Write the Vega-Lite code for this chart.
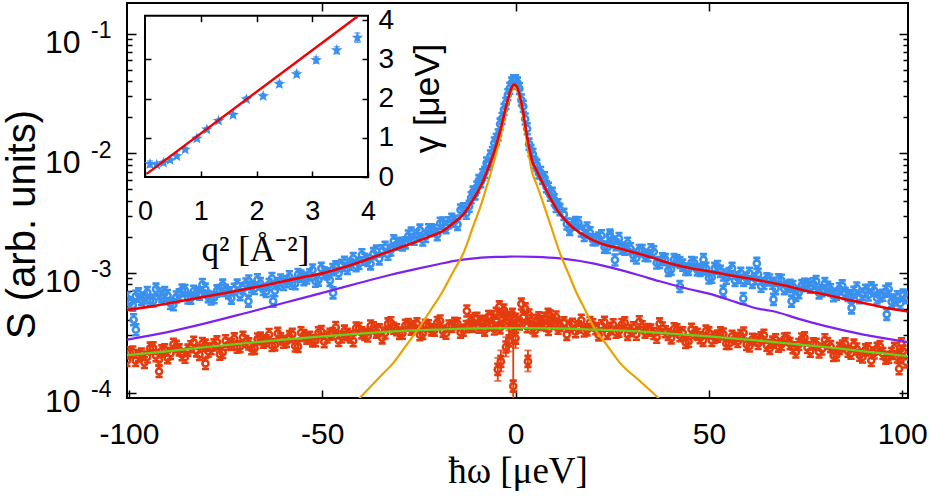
{
  "$schema": "https://vega.github.io/schema/vega-lite/v6.json",
  "width": 781,
  "height": 395,
  "autosize": "none",
  "padding": {"left": 127, "top": 3, "right": 21, "bottom": 98},
  "background": "white",
  "config": {
    "view": {"stroke": "black", "strokeWidth": 2},
    "axis": {
      "domain": false, "grid": false,
      "labelFont": "Liberation Sans", "titleFont": "Liberation Sans",
      "labelColor": "black", "titleColor": "black", "tickColor": "black",
      "tickWidth": 1.5, "titleFontWeight": "normal",
      "labelFlush": false, "labelOverlap": false, "titlePadding": 0
    }
  },
  "datasets": {
    "blue": [
      {"x":-100.5,"y":6.17e-4},{"x":-99,"y":5.38e-4},{"x":-97.5,"y":6.68e-4},{"x":-96,"y":6.17e-4},{"x":-94.5,"y":5.9e-4},{"x":-93,"y":7.31e-4},{"x":-91.5,"y":6.33e-4},{"x":-90,"y":6.47e-4},{"x":-88.5,"y":5.42e-4},{"x":-87,"y":6.55e-4},{"x":-85.5,"y":7.13e-4},{"x":-84,"y":6.15e-4},{"x":-82.5,"y":6.82e-4},{"x":-81,"y":7.99e-4},{"x":-79.5,"y":6.33e-4},{"x":-78,"y":6.19e-4},{"x":-76.5,"y":7.13e-4},{"x":-75,"y":7.14e-4},{"x":-73.5,"y":6.15e-4},{"x":-72,"y":7.9e-4},{"x":-70.5,"y":7.39e-4},{"x":-69,"y":8.54e-4},{"x":-67.5,"y":7.41e-4},{"x":-66,"y":8.13e-4},{"x":-64.5,"y":6.98e-4},{"x":-63,"y":8.97e-4},{"x":-61.5,"y":8.13e-4},{"x":-60,"y":8.0e-4},{"x":-58.5,"y":9.29e-4},{"x":-57,"y":8.11e-4},{"x":-55.5,"y":9.39e-4},{"x":-54,"y":9.05e-4},{"x":-52.5,"y":1.058e-3},{"x":-51,"y":8.7e-4},{"x":-49.5,"y":1.0e-3},{"x":-48,"y":8.66e-4},{"x":-46.5,"y":1.122e-3},{"x":-45,"y":1.154e-3},{"x":-43.5,"y":1.09e-3},{"x":-42,"y":1.32e-3},{"x":-40.5,"y":1.2e-3},{"x":-39,"y":1.3e-3},{"x":-37.5,"y":1.19e-3},{"x":-36,"y":1.52e-3},{"x":-34.5,"y":1.53e-3},{"x":-33,"y":1.43e-3},{"x":-31.5,"y":1.85e-3},{"x":-30,"y":1.77e-3},{"x":-28.5,"y":1.78e-3},{"x":-27,"y":2.15e-3},{"x":-25.5,"y":2.05e-3},{"x":-24,"y":1.88e-3},{"x":-22.5,"y":2.29e-3},{"x":-21,"y":2.26e-3},{"x":-19.5,"y":2.6e-3},{"x":-18,"y":2.39e-3},{"x":-16.5,"y":2.8e-3},{"x":-15,"y":2.54e-3},{"x":-13.5,"y":3.43e-3},{"x":-12,"y":3.6e-3},
      {"x":-99.75,"y":5.63e-4},{"x":-98.25,"y":6.38e-4},{"x":-96.75,"y":6.0e-4},{"x":-95.25,"y":6.84e-4},{"x":-93.75,"y":5.83e-4},{"x":-92.25,"y":6.66e-4},{"x":-90.75,"y":6.84e-4},{"x":-89.25,"y":5.54e-4},{"x":-87.75,"y":6.29e-4},{"x":-86.25,"y":7.18e-4},{"x":-84.75,"y":6.16e-4},{"x":-83.25,"y":7.01e-4},{"x":-81.75,"y":6.62e-4},{"x":-80.25,"y":7.31e-4},{"x":-78.75,"y":6.05e-4},{"x":-77.25,"y":7.07e-4},{"x":-75.75,"y":7.9e-4},{"x":-74.25,"y":6.8e-4},{"x":-72.75,"y":7.3e-4},{"x":-71.25,"y":6.58e-4},{"x":-69.75,"y":8.07e-4},{"x":-68.25,"y":7.62e-4},{"x":-66.75,"y":8.75e-4},{"x":-65.25,"y":7.27e-4},{"x":-63.75,"y":8.0e-4},{"x":-62.25,"y":7.08e-4},{"x":-60.75,"y":8.72e-4},{"x":-59.25,"y":8.43e-4},{"x":-57.75,"y":8.19e-4},{"x":-56.25,"y":9.7e-4},{"x":-54.75,"y":8.78e-4},{"x":-53.25,"y":9.62e-4},{"x":-51.75,"y":8.51e-4},{"x":-50.25,"y":1.094e-3},{"x":-48.75,"y":9.8e-4},{"x":-47.25,"y":1.065e-3},{"x":-45.75,"y":9.94e-4},{"x":-44.25,"y":1.226e-3},{"x":-42.75,"y":1.18e-3},{"x":-41.25,"y":1.147e-3},{"x":-39.75,"y":1.417e-3},{"x":-38.25,"y":1.267e-3},{"x":-36.75,"y":1.449e-3},{"x":-35.25,"y":1.31e-3},{"x":-33.75,"y":1.635e-3},{"x":-32.25,"y":1.554e-3},{"x":-30.75,"y":1.734e-3},{"x":-29.25,"y":1.711e-3},{"x":-27.75,"y":2.033e-3},{"x":-26.25,"y":1.911e-3},{"x":-24.75,"y":2.276e-3},{"x":-23.25,"y":2.014e-3},{"x":-21.75,"y":2.288e-3},{"x":-20.25,"y":2.088e-3},{"x":-18.75,"y":2.608e-3},{"x":-17.25,"y":2.62e-3},{"x":-15.75,"y":2.698e-3},{"x":-14.25,"y":3.355e-3},{"x":-12.75,"y":3.149e-3},
      {"x":-11.5,"y":4.24e-3},{"x":-11,"y":4.73e-3},{"x":-10.5,"y":4.57e-3},{"x":-10,"y":5.21e-3},{"x":-9.5,"y":5.9e-3},{"x":-9,"y":5.78e-3},{"x":-8.5,"y":6.61e-3},{"x":-8,"y":6.93e-3},{"x":-7.5,"y":8.28e-3},{"x":-7,"y":8.06e-3},{"x":-6.5,"y":9.49e-3},{"x":-6,"y":1.014e-2},{"x":-5.5,"y":1.217e-2},{"x":-5,"y":1.3e-2},{"x":-4.5,"y":1.42e-2},{"x":-4,"y":1.75e-2},{"x":-3.5,"y":1.95e-2},{"x":-3,"y":2.32e-2},{"x":-2.5,"y":2.61e-2},{"x":-2,"y":3.08e-2},{"x":-1.5,"y":3.49e-2},{"x":-1,"y":3.85e-2},{"x":-0.5,"y":4.02e-2},{"x":0,"y":4.03e-2},{"x":0.5,"y":3.85e-2},{"x":1,"y":3.47e-2},{"x":1.5,"y":2.78e-2},{"x":2,"y":2.47e-2},{"x":2.5,"y":1.93e-2},{"x":3,"y":1.6e-2},{"x":3.5,"y":1.19e-2},{"x":4,"y":1.05e-2},{"x":4.5,"y":9.8e-3},{"x":5,"y":8.28e-3},{"x":5.5,"y":7.95e-3},{"x":6,"y":6.83e-3},{"x":6.5,"y":6.9e-3},{"x":7,"y":6.16e-3},{"x":7.5,"y":6.24e-3},{"x":8,"y":5.24e-3},{"x":8.5,"y":5.09e-3},{"x":9,"y":4.45e-3},{"x":9.5,"y":4.62e-3},{"x":10,"y":4.07e-3},{"x":10.5,"y":3.59e-3},{"x":11,"y":3.71e-3},{"x":11.5,"y":3.38e-3},
      {"x":12.5,"y":3.08e-3},{"x":14,"y":2.31e-3},{"x":15.5,"y":2.63e-3},{"x":17,"y":2.24e-3},{"x":18.5,"y":2.37e-3},{"x":20,"y":1.89e-3},{"x":21.5,"y":1.95e-3},{"x":23,"y":1.64e-3},{"x":24.5,"y":2.0e-3},{"x":26,"y":1.72e-3},{"x":27.5,"y":1.61e-3},{"x":29,"y":1.77e-3},{"x":30.5,"y":1.4e-3},{"x":32,"y":1.54e-3},{"x":33.5,"y":1.4e-3},{"x":35,"y":1.56e-3},{"x":36.5,"y":1.21e-3},{"x":38,"y":1.31e-3},{"x":39.5,"y":1.05e-3},{"x":41,"y":1.29e-3},{"x":42.5,"y":1.22e-3},{"x":44,"y":1.07e-3},{"x":45.5,"y":1.22e-3},{"x":47,"y":1.06e-3},{"x":48.5,"y":1.08e-3},{"x":50,"y":9.06e-4},{"x":51.5,"y":1.09e-3},{"x":53,"y":1.03e-3},{"x":54.5,"y":9.02e-4},{"x":56,"y":1.09e-3},{"x":57.5,"y":9.11e-4},{"x":59,"y":8.65e-4},{"x":60.5,"y":9.93e-4},{"x":62,"y":8.93e-4},{"x":63.5,"y":7.74e-4},{"x":65,"y":8.9e-4},{"x":66.5,"y":8.2e-4},{"x":68,"y":8.77e-4},{"x":69.5,"y":7.38e-4},{"x":71,"y":7.88e-4},{"x":72.5,"y":6.48e-4},{"x":74,"y":7.83e-4},{"x":75.5,"y":7.97e-4},{"x":77,"y":8.11e-4},{"x":78.5,"y":6.8e-4},{"x":80,"y":8.13e-4},{"x":81.5,"y":7.22e-4},{"x":83,"y":6.63e-4},{"x":84.5,"y":7.79e-4},{"x":86,"y":6.46e-4},{"x":87.5,"y":6.89e-4},{"x":89,"y":6.2e-4},{"x":90.5,"y":7.15e-4},{"x":92,"y":7.49e-4},{"x":93.5,"y":6.16e-4},{"x":95,"y":6.5e-4},{"x":96.5,"y":7.32e-4},{"x":98,"y":5.94e-4},{"x":99.5,"y":5.58e-4},{"x":101,"y":6.21e-4},
      {"x":13.25,"y":2.56e-3},{"x":14.75,"y":2.55e-3},{"x":16.25,"y":2.62e-3},{"x":17.75,"y":2.05e-3},{"x":19.25,"y":2.16e-3},{"x":20.75,"y":1.89e-3},{"x":22.25,"y":2.04e-3},{"x":23.75,"y":1.63e-3},{"x":25.25,"y":1.81e-3},{"x":26.75,"y":1.94e-3},{"x":28.25,"y":1.58e-3},{"x":29.75,"y":1.59e-3},{"x":31.25,"y":1.33e-3},{"x":32.75,"y":1.54e-3},{"x":34.25,"y":1.39e-3},{"x":35.75,"y":1.5e-3},{"x":37.25,"y":1.22e-3},{"x":38.75,"y":1.29e-3},{"x":40.25,"y":1.07e-3},{"x":41.75,"y":1.26e-3},{"x":43.25,"y":1.16e-3},{"x":44.75,"y":1.07e-3},{"x":46.25,"y":1.21e-3},{"x":47.75,"y":1.05e-3},{"x":49.25,"y":1.09e-3},{"x":50.75,"y":9.18e-4},{"x":52.25,"y":1.13e-3},{"x":53.75,"y":9.6e-4},{"x":55.25,"y":9.89e-4},{"x":56.75,"y":8.65e-4},{"x":58.25,"y":9.94e-4},{"x":59.75,"y":9.02e-4},{"x":61.25,"y":8.32e-4},{"x":62.75,"y":9.72e-4},{"x":64.25,"y":8.16e-4},{"x":65.75,"y":8.72e-4},{"x":67.25,"y":7.39e-4},{"x":68.75,"y":8.67e-4},{"x":70.25,"y":7.67e-4},{"x":71.75,"y":7.7e-4},{"x":73.25,"y":6.84e-4},{"x":74.75,"y":8.03e-4},{"x":76.25,"y":7.59e-4},{"x":77.75,"y":8.48e-4},{"x":79.25,"y":7.11e-4},{"x":80.75,"y":7.59e-4},{"x":82.25,"y":6.44e-4},{"x":83.75,"y":7.36e-4},{"x":85.25,"y":6.74e-4},{"x":86.75,"y":6.33e-4},{"x":88.25,"y":7.47e-4},{"x":89.75,"y":6.61e-4},{"x":91.25,"y":6.54e-4},{"x":92.75,"y":7.13e-4},{"x":94.25,"y":6.4e-4},{"x":95.75,"y":7.02e-4},{"x":97.25,"y":5.75e-4},{"x":98.75,"y":6.31e-4},{"x":100.25,"y":6.51e-4},
      {"x":-98.8,"y":4.06e-4},{"x":-98.2,"y":3.35e-4},{"x":-69.1,"y":5.8e-4},{"x":-62.7,"y":5.8e-4},{"x":-47.2,"y":6.8e-4},{"x":24.4,"y":2.07e-3},{"x":25.7,"y":1.28e-3},{"x":42.5,"y":7.7e-4},{"x":48.6,"y":1.29e-3},{"x":53.7,"y":7.0e-4},{"x":58.9,"y":6.1e-4},{"x":62.4,"y":1.2e-3},{"x":66.7,"y":6.0e-4},{"x":71.4,"y":5.8e-4},{"x":86.9,"y":5.1e-4},{"x":96,"y":4.5e-4}
    ],
    "orange": [
      {"x":-100.5,"y":1.85e-4},{"x":-99,"y":2.18e-4},{"x":-97.5,"y":2.04e-4},{"x":-96,"y":1.78e-4},{"x":-94.5,"y":2.35e-4},{"x":-93,"y":2.03e-4},{"x":-91.5,"y":2.23e-4},{"x":-90,"y":1.95e-4},{"x":-88.5,"y":2.53e-4},{"x":-87,"y":2.27e-4},{"x":-85.5,"y":1.97e-4},{"x":-84,"y":2.41e-4},{"x":-82.5,"y":2.23e-4},{"x":-81,"y":2.57e-4},{"x":-79.5,"y":2.21e-4},{"x":-78,"y":2.5e-4},{"x":-76.5,"y":2.09e-4},{"x":-75,"y":2.71e-4},{"x":-73.5,"y":2.52e-4},{"x":-72,"y":2.39e-4},{"x":-70.5,"y":2.9e-4},{"x":-69,"y":2.55e-4},{"x":-67.5,"y":2.34e-4},{"x":-66,"y":2.85e-4},{"x":-64.5,"y":2.71e-4},{"x":-63,"y":2.47e-4},{"x":-61.5,"y":3.12e-4},{"x":-60,"y":2.63e-4},{"x":-58.5,"y":2.93e-4},{"x":-57,"y":2.45e-4},{"x":-55.5,"y":3.16e-4},{"x":-54,"y":2.85e-4},{"x":-52.5,"y":2.7e-4},{"x":-51,"y":3.16e-4},{"x":-49.5,"y":2.66e-4},{"x":-48,"y":3.07e-4},{"x":-46.5,"y":3.49e-4},{"x":-45,"y":2.91e-4},{"x":-43.5,"y":3.06e-4},{"x":-42,"y":2.71e-4},{"x":-40.5,"y":3.43e-4},{"x":-39,"y":3.06e-4},{"x":-37.5,"y":3.6e-4},{"x":-36,"y":3.2e-4},{"x":-34.5,"y":2.86e-4},{"x":-33,"y":3.75e-4},{"x":-31.5,"y":3.44e-4},{"x":-30,"y":3.12e-4},{"x":-28.5,"y":3.65e-4},{"x":-27,"y":3.39e-4},{"x":-25.5,"y":3.75e-4},{"x":-24,"y":3.12e-4},{"x":-22.5,"y":3.61e-4},{"x":-21,"y":3.32e-4},{"x":-19.5,"y":3.96e-4},{"x":-18,"y":3.13e-4},{"x":-16.5,"y":3.57e-4},{"x":-15,"y":3.76e-4},{"x":-13.5,"y":3.31e-4},{"x":-12,"y":3.57e-4},
      {"x":-99.75,"y":2.15e-4},{"x":-98.25,"y":1.85e-4},{"x":-96.75,"y":2.1e-4},{"x":-95.25,"y":1.98e-4},{"x":-93.75,"y":2.36e-4},{"x":-92.25,"y":1.88e-4},{"x":-90.75,"y":2.27e-4},{"x":-89.25,"y":2.12e-4},{"x":-87.75,"y":2.43e-4},{"x":-86.25,"y":2.07e-4},{"x":-84.75,"y":2.26e-4},{"x":-83.25,"y":2.63e-4},{"x":-81.75,"y":2.08e-4},{"x":-80.25,"y":2.49e-4},{"x":-78.75,"y":2.32e-4},{"x":-77.25,"y":2.65e-4},{"x":-75.75,"y":2.16e-4},{"x":-74.25,"y":2.53e-4},{"x":-72.75,"y":2.81e-4},{"x":-71.25,"y":2.41e-4},{"x":-69.75,"y":2.67e-4},{"x":-68.25,"y":2.32e-4},{"x":-66.75,"y":2.8e-4},{"x":-65.25,"y":2.64e-4},{"x":-63.75,"y":3.05e-4},{"x":-62.25,"y":2.5e-4},{"x":-60.75,"y":2.81e-4},{"x":-59.25,"y":2.67e-4},{"x":-57.75,"y":3.06e-4},{"x":-56.25,"y":2.43e-4},{"x":-54.75,"y":3.0e-4},{"x":-53.25,"y":2.89e-4},{"x":-51.75,"y":2.71e-4},{"x":-50.25,"y":3.23e-4},{"x":-48.75,"y":2.91e-4},{"x":-47.25,"y":3.11e-4},{"x":-45.75,"y":2.72e-4},{"x":-44.25,"y":3.26e-4},{"x":-42.75,"y":2.92e-4},{"x":-41.25,"y":3.46e-4},{"x":-39.75,"y":3.15e-4},{"x":-38.25,"y":2.97e-4},{"x":-36.75,"y":3.48e-4},{"x":-35.25,"y":3.34e-4},{"x":-33.75,"y":3.14e-4},{"x":-32.25,"y":3.83e-4},{"x":-30.75,"y":3.35e-4},{"x":-29.25,"y":3.13e-4},{"x":-27.75,"y":3.69e-4},{"x":-26.25,"y":3.54e-4},{"x":-24.75,"y":3.04e-4},{"x":-23.25,"y":3.64e-4},{"x":-21.75,"y":3.34e-4},{"x":-20.25,"y":3.85e-4},{"x":-18.75,"y":3.26e-4},{"x":-17.25,"y":3.6e-4},{"x":-15.75,"y":3.78e-4},{"x":-14.25,"y":3.19e-4},{"x":-12.75,"y":3.56e-4},
      {"x":-11.5,"y":3.98e-4},{"x":-11,"y":3.59e-4},{"x":-10.5,"y":4.13e-4},{"x":-10,"y":4.17e-4},{"x":-9.5,"y":3.51e-4},{"x":-9,"y":3.86e-4},{"x":-8.5,"y":3.94e-4},{"x":-8,"y":3.32e-4},{"x":-7.5,"y":3.67e-4},{"x":-7,"y":4.32e-4},{"x":-6.5,"y":4.32e-4},{"x":-6,"y":3.71e-4},{"x":-5.5,"y":3.4e-4},{"x":-5,"y":4.01e-4},{"x":-4,"y":3.47e-4},{"x":-3.5,"y":4.05e-4},{"x":-3,"y":4.44e-4},{"x":-2,"y":3.94e-4},{"x":-1.5,"y":4.25e-4},{"x":-1,"y":3.4e-4},{"x":-0.5,"y":3.59e-4},{"x":0,"y":4.09e-4},{"x":0.5,"y":3.86e-4},{"x":1,"y":3.74e-4},{"x":2,"y":4.25e-4},{"x":3,"y":3.55e-4},{"x":3.5,"y":4.44e-4},{"x":4,"y":3.98e-4},{"x":4.5,"y":3.47e-4},{"x":5,"y":3.28e-4},{"x":5.5,"y":4.01e-4},{"x":6,"y":4.21e-4},{"x":6.5,"y":3.71e-4},{"x":7,"y":3.86e-4},{"x":7.5,"y":4.17e-4},{"x":8,"y":3.63e-4},{"x":8.5,"y":3.36e-4},{"x":9,"y":4.36e-4},{"x":9.5,"y":3.9e-4},{"x":10,"y":3.78e-4},{"x":10.5,"y":4.28e-4},{"x":11,"y":3.44e-4},{"x":11.5,"y":3.63e-4},
      {"x":-5,"y":4.6e-4},{"x":-4.2,"y":5.2e-4},{"x":-3,"y":4.9e-4},{"x":-0.8,"y":4.5e-4},{"x":1.5,"y":5.5e-4},{"x":2.5,"y":5.0e-4},{"x":-12.6,"y":4.8e-4},{"x":8.4,"y":4.5e-4},
      {"x":-4.6,"y":1.56e-4},{"x":-3.8,"y":1.82e-4},{"x":-2.5,"y":2.4e-4},{"x":-1.7,"y":2.7e-4},{"x":-0.6,"y":1.13e-4},{"x":0,"y":2.85e-4},{"x":3.2,"y":1.82e-4},
      {"x":12.5,"y":3.82e-4},{"x":14,"y":3.59e-4},{"x":15.5,"y":3.22e-4},{"x":17,"y":4.02e-4},{"x":18.5,"y":3.34e-4},{"x":20,"y":3.68e-4},{"x":21.5,"y":3.03e-4},{"x":23,"y":3.86e-4},{"x":24.5,"y":3.42e-4},{"x":26,"y":3.19e-4},{"x":27.5,"y":3.7e-4},{"x":29,"y":3.06e-4},{"x":30.5,"y":3.48e-4},{"x":32,"y":3.9e-4},{"x":33.5,"y":3.2e-4},{"x":35,"y":3.32e-4},{"x":36.5,"y":2.9e-4},{"x":38,"y":3.46e-4},{"x":39.5,"y":3.05e-4},{"x":41,"y":3.41e-4},{"x":42.5,"y":2.98e-4},{"x":44,"y":2.62e-4},{"x":45.5,"y":3.38e-4},{"x":47,"y":3.06e-4},{"x":48.5,"y":2.73e-4},{"x":50,"y":3.15e-4},{"x":51.5,"y":2.89e-4},{"x":53,"y":3.15e-4},{"x":54.5,"y":2.57e-4},{"x":56,"y":2.95e-4},{"x":57.5,"y":2.67e-4},{"x":59,"y":3.14e-4},{"x":60.5,"y":2.45e-4},{"x":62,"y":2.76e-4},{"x":63.5,"y":2.86e-4},{"x":65,"y":2.48e-4},{"x":66.5,"y":2.64e-4},{"x":68,"y":2.44e-4},{"x":69.5,"y":2.8e-4},{"x":71,"y":2.56e-4},{"x":72.5,"y":2.18e-4},{"x":74,"y":2.8e-4},{"x":75.5,"y":2.38e-4},{"x":77,"y":2.55e-4},{"x":78.5,"y":2.18e-4},{"x":80,"y":2.76e-4},{"x":81.5,"y":2.42e-4},{"x":83,"y":2.06e-4},{"x":84.5,"y":2.45e-4},{"x":86,"y":2.21e-4},{"x":87.5,"y":2.49e-4},{"x":89,"y":2.05e-4},{"x":90.5,"y":2.27e-4},{"x":92,"y":1.85e-4},{"x":93.5,"y":2.34e-4},{"x":95,"y":2.12e-4},{"x":96.5,"y":1.97e-4},{"x":98,"y":2.34e-4},{"x":99.5,"y":2.01e-4},{"x":101,"y":1.8e-4},
      {"x":13.25,"y":3.06e-4},{"x":14.75,"y":3.72e-4},{"x":16.25,"y":3.54e-4},{"x":17.75,"y":3.27e-4},{"x":19.25,"y":3.85e-4},{"x":20.75,"y":3.42e-4},{"x":22.25,"y":3.61e-4},{"x":23.75,"y":3.12e-4},{"x":25.25,"y":3.68e-4},{"x":26.75,"y":3.26e-4},{"x":28.25,"y":3.82e-4},{"x":29.75,"y":3.29e-4},{"x":31.25,"y":3.07e-4},{"x":32.75,"y":3.55e-4},{"x":34.25,"y":3.36e-4},{"x":35.75,"y":3.11e-4},{"x":37.25,"y":3.75e-4},{"x":38.75,"y":3.22e-4},{"x":40.25,"y":2.86e-4},{"x":41.75,"y":3.34e-4},{"x":43.25,"y":3.15e-4},{"x":44.75,"y":2.67e-4},{"x":46.25,"y":3.16e-4},{"x":47.75,"y":2.87e-4},{"x":49.25,"y":3.26e-4},{"x":50.75,"y":2.72e-4},{"x":52.25,"y":2.96e-4},{"x":53.75,"y":3.08e-4},{"x":55.25,"y":2.57e-4},{"x":56.75,"y":2.82e-4},{"x":58.25,"y":2.99e-4},{"x":59.75,"y":2.52e-4},{"x":61.25,"y":2.79e-4},{"x":62.75,"y":2.57e-4},{"x":64.25,"y":3.01e-4},{"x":65.75,"y":2.34e-4},{"x":67.25,"y":2.76e-4},{"x":68.75,"y":2.52e-4},{"x":70.25,"y":2.83e-4},{"x":71.75,"y":2.37e-4},{"x":73.25,"y":2.52e-4},{"x":74.75,"y":2.86e-4},{"x":76.25,"y":2.21e-4},{"x":77.75,"y":2.53e-4},{"x":79.25,"y":2.31e-4},{"x":80.75,"y":2.57e-4},{"x":82.25,"y":2.04e-4},{"x":83.75,"y":2.34e-4},{"x":85.25,"y":2.55e-4},{"x":86.75,"y":2.13e-4},{"x":88.25,"y":2.31e-4},{"x":89.75,"y":1.98e-4},{"x":91.25,"y":2.32e-4},{"x":92.75,"y":2.14e-4},{"x":94.25,"y":2.42e-4},{"x":95.75,"y":1.94e-4},{"x":97.25,"y":2.12e-4},{"x":98.75,"y":1.98e-4},{"x":100.25,"y":2.22e-4},
      {"x":99.8,"y":2.55e-4},{"x":99.2,"y":1.58e-4},{"x":-92.2,"y":1.5e-4},{"x":-80.2,"y":1.75e-4}
    ],
    "errs": [
      {"x":-4.6,"lo":1.25e-4,"hi":1.95e-4},{"x":-3.8,"lo":1.5e-4,"hi":2.25e-4},{"x":-2.5,"lo":2.0e-4,"hi":2.9e-4},{"x":-1.7,"lo":2.2e-4,"hi":3.3e-4},{"x":-0.6,"lo":8.0e-5,"hi":2.95e-4},{"x":0,"lo":2.35e-4,"hi":3.5e-4},{"x":3.2,"lo":1.5e-4,"hi":2.25e-4}
    ],
    "total": [
      {"x":-100.5,"y":4.9e-4},{"x":-95,"y":5.2e-4},{"x":-90,"y":5.55e-4},{"x":-85,"y":5.93e-4},{"x":-80,"y":6.35e-4},{"x":-75,"y":6.8e-4},{"x":-70,"y":7.3e-4},{"x":-65,"y":7.85e-4},{"x":-60,"y":8.5e-4},{"x":-55,"y":9.2e-4},{"x":-50,"y":9.9e-4},{"x":-45,"y":1.1e-3},{"x":-40,"y":1.24e-3},{"x":-35,"y":1.42e-3},{"x":-30,"y":1.62e-3},{"x":-27,"y":1.75e-3},{"x":-24.7,"y":1.87e-3},{"x":-22,"y":2.02e-3},{"x":-19.1,"y":2.21e-3},{"x":-16,"y":2.62e-3},{"x":-13.5,"y":3.08e-3},{"x":-11,"y":4.08e-3},{"x":-8.8,"y":5.48e-3},{"x":-7.4,"y":7.05e-3},{"x":-6.2,"y":8.9e-3},{"x":-5,"y":1.17e-2},{"x":-4,"y":1.52e-2},{"x":-3,"y":2.07e-2},{"x":-2,"y":2.8e-2},{"x":-1.2,"y":3.41e-2},{"x":-0.4,"y":3.74e-2},{"x":0,"y":3.7e-2},{"x":0.4,"y":3.56e-2},{"x":1.2,"y":2.92e-2},{"x":2,"y":2.17e-2},{"x":2.9,"y":1.43e-2},{"x":3.5,"y":1.12e-2},{"x":4.16,"y":8.9e-3},{"x":5.5,"y":7.1e-3},{"x":7.17,"y":5.5e-3},{"x":9.3,"y":4.04e-3},{"x":11.5,"y":3.1e-3},{"x":13.6,"y":2.6e-3},{"x":15.8,"y":2.26e-3},{"x":18,"y":2.04e-3},{"x":20.1,"y":1.87e-3},{"x":23.5,"y":1.7e-3},{"x":26.2,"y":1.62e-3},{"x":30,"y":1.5e-3},{"x":35,"y":1.35e-3},{"x":40,"y":1.2e-3},{"x":45,"y":1.1e-3},{"x":50,"y":1.03e-3},{"x":55,"y":9.6e-4},{"x":60,"y":9.0e-4},{"x":66.7,"y":8.2e-4},{"x":70,"y":7.8e-4},{"x":75,"y":7.1e-4},{"x":80,"y":6.6e-4},{"x":85,"y":6.05e-4},{"x":90,"y":5.6e-4},{"x":95,"y":5.15e-4},{"x":101.5,"y":4.75e-4}
    ],
    "broad": [
      {"x":-100.5,"y":2.77e-4},{"x":-90,"y":3.2e-4},{"x":-80,"y":3.8e-4},{"x":-70,"y":4.6e-4},{"x":-60,"y":5.6e-4},{"x":-50,"y":6.8e-4},{"x":-40,"y":8.3e-4},{"x":-32.5,"y":9.6e-4},{"x":-25,"y":1.09e-3},{"x":-20,"y":1.18e-3},{"x":-15,"y":1.27e-3},{"x":-10,"y":1.33e-3},{"x":-5,"y":1.36e-3},{"x":0,"y":1.37e-3},{"x":5,"y":1.36e-3},{"x":11.5,"y":1.32e-3},{"x":20,"y":1.2e-3},{"x":27,"y":1.06e-3},{"x":32.2,"y":9.5e-4},{"x":37.3,"y":8.5e-4},{"x":45,"y":7.3e-4},{"x":50,"y":6.7e-4},{"x":57,"y":5.7e-4},{"x":63,"y":5.0e-4},{"x":66.7,"y":4.78e-4},{"x":73,"y":4.15e-4},{"x":80.5,"y":3.57e-4},{"x":90,"y":3.05e-4},{"x":101.5,"y":2.64e-4}
    ],
    "narrow": [
      {"x":-45,"y":6.3e-5},{"x":-40.3,"y":9.0e-5},{"x":-35,"y":1.36e-4},{"x":-31.6,"y":1.77e-4},{"x":-28,"y":2.55e-4},{"x":-24.7,"y":3.57e-4},{"x":-22,"y":4.86e-4},{"x":-19.1,"y":6.78e-4},{"x":-16,"y":1.04e-3},{"x":-13.5,"y":1.46e-3},{"x":-11,"y":2.43e-3},{"x":-8.8,"y":3.81e-3},{"x":-7.4,"y":5.37e-3},{"x":-6.2,"y":7.2e-3},{"x":-5,"y":1.0e-2},{"x":-4,"y":1.35e-2},{"x":-3,"y":1.9e-2},{"x":-2,"y":2.63e-2},{"x":-1.2,"y":3.24e-2},{"x":-0.4,"y":3.57e-2},{"x":0.4,"y":3.39e-2},{"x":1.2,"y":2.75e-2},{"x":2,"y":2.0e-2},{"x":2.9,"y":1.26e-2},{"x":3.5,"y":9.5e-3},{"x":4.16,"y":7.2e-3},{"x":5.5,"y":5.43e-3},{"x":7.17,"y":3.81e-3},{"x":9.3,"y":2.37e-3},{"x":11.48,"y":1.46e-3},{"x":13.6,"y":1.0e-3},{"x":15.8,"y":6.78e-4},{"x":18,"y":4.9e-4},{"x":20.1,"y":3.57e-4},{"x":23.5,"y":2.52e-4},{"x":27,"y":1.77e-4},{"x":32,"y":1.26e-4},{"x":36.9,"y":9.03e-5},{"x":42,"y":6.3e-5}
    ],
    "bg": [
      {"x":-100.5,"y":2.05e-4},{"x":-90,"y":2.21e-4},{"x":-80,"y":2.4e-4},{"x":-70,"y":2.58e-4},{"x":-60,"y":2.77e-4},{"x":-50,"y":2.95e-4},{"x":-40,"y":3.11e-4},{"x":-30,"y":3.26e-4},{"x":-20,"y":3.36e-4},{"x":-10,"y":3.44e-4},{"x":0,"y":3.46e-4},{"x":10,"y":3.44e-4},{"x":20,"y":3.36e-4},{"x":30,"y":3.26e-4},{"x":40,"y":3.11e-4},{"x":50,"y":2.95e-4},{"x":60,"y":2.77e-4},{"x":70,"y":2.58e-4},{"x":80,"y":2.4e-4},{"x":90,"y":2.21e-4},{"x":101.5,"y":2.01e-4}
    ],
    "gamma": [
      {"q":0.09,"g":0.33,"e":0.08},{"q":0.21,"g":0.31,"e":0.06},{"q":0.33,"g":0.36,"e":0.05},{"q":0.45,"g":0.43,"e":0.05},{"q":0.57,"g":0.53,"e":0.05},{"q":0.72,"g":0.7,"e":0.05},{"q":0.93,"g":0.98,"e":0.05},{"q":1.11,"g":1.21,"e":0.05},{"q":1.32,"g":1.43,"e":0.05},{"q":1.58,"g":1.58,"e":0.05},{"q":1.82,"g":1.98,"e":0.06},{"q":2.12,"g":2.06,"e":0.06},{"q":2.41,"g":2.37,"e":0.07},{"q":2.72,"g":2.62,"e":0.07},{"q":3.07,"g":2.98,"e":0.08},{"q":3.44,"g":3.23,"e":0.09},{"q":3.81,"g":3.55,"e":0.12}
    ],
    "gammafit": [
      {"q":0.03,"g":0.08},{"q":3.81,"g":4.09}
    ]
  },
  "layer": [
    {
      "layer": [
        {
          "data": {"name": "blue"},
          "mark": {"type": "point", "shape": "M-0.55,0A0.55,0.55,0,1,1,0.55,0A0.55,0.55,0,1,1,-0.55,0M0,-0.55L0,-1M-0.65,-1L0.65,-1M0,0.55L0,1M-0.65,1L0.65,1", "filled": false, "size": 121, "strokeWidth": 2.6, "color": "#3a90ee", "opacity": 1, "clip": true},
          "encoding": {
            "x": {"field": "x", "type": "quantitative", "scale": {"domain": [-100.5, 101.5], "nice": false, "zero": false},
              "axis": {"orient": "bottom", "values": [-100, -50, 0, 50, 100], "tickSize": -8, "labelPadding": 29.5, "labelFontSize": 30, "labelExpr": "'' + datum.value", "title": "ħω [μeV]", "titleFont": "Liberation Serif", "titleFontSize": 37, "titleY": 84, "titleBaseline": "alphabetic"}},
            "y": {"field": "y", "type": "quantitative", "scale": {"type": "log", "domain": [9e-5, 0.18], "nice": false},
              "axis": {"orient": "left", "values": [0.0001, 0.001, 0.01, 0.1], "tickSize": 0, "labelPadding": 47, "labelFontSize": 32, "labelExpr": "'10'", "labelBaseline": "middle", "labelOffset": 9, "title": "S (arb. units)", "titleFontSize": 40, "titleX": -93, "titleY": 221, "titleAngle": 270, "titleBaseline": "alphabetic", "titleAlign": "center"}}
          }
        },
        {
          "data": {"name": "orange"},
          "mark": {"type": "point", "shape": "M-0.55,0A0.55,0.55,0,1,1,0.55,0A0.55,0.55,0,1,1,-0.55,0M0,-0.55L0,-1M-0.65,-1L0.65,-1M0,0.55L0,1M-0.65,1L0.65,1", "filled": false, "size": 121, "strokeWidth": 2.6, "color": "#e43c0e", "opacity": 1, "clip": true},
          "encoding": {
            "x": {"field": "x", "type": "quantitative", "axis": {"orient": "top", "values": [-50, 0, 50], "tickSize": -8, "labels": false, "title": null}},
            "y": {"field": "y", "type": "quantitative", "axis": {"orient": "left", "values": [0.0001, 0.001, 0.01, 0.1], "tickSize": 0, "labelPadding": 16, "labelFontSize": 23, "labelExpr": "'' + round(log(datum.value) / LN10)", "labelBaseline": "middle", "labelOffset": -3, "title": null}}
          }
        },
        {
          "data": {"name": "errs"},
          "mark": {"type": "errorbar", "ticks": {"size": 7}, "thickness": 1.8, "color": "#e43c0e", "clip": true},
          "encoding": {
            "x": {"field": "x", "type": "quantitative", "axis": null},
            "y": {"field": "lo", "type": "quantitative", "axis": null},
            "y2": {"field": "hi"}
          }
        },
        {
          "data": {"name": "broad"},
          "mark": {"type": "line", "color": "#7c22ec", "strokeWidth": 2.2, "interpolate": "monotone", "clip": true},
          "encoding": {
            "x": {"field": "x", "type": "quantitative", "axis": null},
            "y": {"field": "y", "type": "quantitative", "axis": {"orient": "left", "values": [0.0001, 0.001, 0.01, 0.1], "tickSize": -9, "labels": false, "title": null}}
          }
        },
        {
          "data": {"name": "narrow"},
          "mark": {"type": "line", "color": "#e8a303", "strokeWidth": 2.2, "interpolate": "monotone", "clip": true},
          "encoding": {
            "x": {"field": "x", "type": "quantitative", "axis": null},
            "y": {"field": "y", "type": "quantitative", "axis": {"orient": "left", "values": [0.0002,0.0003,0.0004,0.0005,0.0006,0.0007,0.0008,0.0009,0.002,0.003,0.004,0.005,0.006,0.007,0.008,0.009,0.02,0.03,0.04,0.05,0.06,0.07,0.08,0.09], "tickSize": -5, "labels": false, "title": null}}
          }
        },
        {
          "data": {"name": "bg"},
          "mark": {"type": "line", "color": "#66d01e", "strokeWidth": 2.2, "interpolate": "monotone", "clip": true},
          "encoding": {
            "x": {"field": "x", "type": "quantitative", "axis": null},
            "y": {"field": "y", "type": "quantitative", "axis": {"orient": "right", "values": [0.0001, 0.001, 0.01, 0.1], "tickSize": -9, "labels": false, "title": null}}
          }
        },
        {
          "data": {"name": "total"},
          "mark": {"type": "line", "color": "#f00000", "strokeWidth": 2.6, "interpolate": "monotone", "clip": true},
          "encoding": {
            "x": {"field": "x", "type": "quantitative", "axis": null},
            "y": {"field": "y", "type": "quantitative", "axis": {"orient": "right", "values": [0.0002,0.0003,0.0004,0.0005,0.0006,0.0007,0.0008,0.0009,0.002,0.003,0.004,0.005,0.006,0.007,0.008,0.009,0.02,0.03,0.04,0.05,0.06,0.07,0.08,0.09], "tickSize": -5, "labels": false, "title": null}}
          }
        }
      ],
      "resolve": {"axis": {"x": "independent", "y": "independent"}}
    },
    {
      "layer": [
        {
          "data": {"values": [{}]},
          "mark": {"type": "rect", "fill": "white", "stroke": "black", "strokeWidth": 2},
          "encoding": {
            "x": {"datum": 0, "type": "quantitative", "scale": {"domain": [0, 4], "range": [18, 241], "nice": false, "zero": false},
              "axis": {"orient": "bottom", "offset": -221, "values": [0, 1, 2, 3, 4], "tickSize": -6, "labelPadding": 27, "labelFontSize": 27, "zindex": 1, "title": "q² [Å⁻²]", "titleFont": "Liberation Serif", "titleFontSize": 35, "titleX": 128, "titleY": 83, "titleBaseline": "alphabetic", "titleAlign": "center"}},
            "x2": {"datum": 4},
            "y": {"datum": 0, "type": "quantitative", "scale": {"domain": [0, 4.11], "range": [174, 12.7], "nice": false, "zero": false},
              "axis": {"orient": "right", "offset": -540, "values": [0, 1, 2, 3, 4], "tickSize": -6, "labelPadding": 16, "labelFontSize": 28, "labelBaseline": "middle", "zindex": 1, "title": "γ [μeV]", "titleFontSize": 35, "titleAngle": 270, "titleX": 70, "titleY": 95, "titleBaseline": "alphabetic", "titleAlign": "center"}},
            "y2": {"datum": 4.11}
          }
        },
        {
          "data": {"name": "gamma"},
          "mark": {"type": "errorbar", "ticks": {"size": 6}, "thickness": 1.5, "color": "#3a90ee"},
          "encoding": {
            "x": {"field": "q", "type": "quantitative", "axis": null},
            "y": {"field": "g", "type": "quantitative", "axis": null},
            "yError": {"field": "e"}
          }
        },
        {
          "data": {"name": "gamma"},
          "mark": {"type": "point", "shape": "M0,-1L0.235,-0.324L0.951,-0.309L0.38,0.124L0.588,0.809L0,0.4L-0.588,0.809L-0.38,0.124L-0.951,-0.309L-0.235,-0.324Z", "filled": true, "size": 150, "strokeWidth": 1, "color": "#3a90ee", "opacity": 1},
          "encoding": {
            "x": {"field": "q", "type": "quantitative", "axis": null},
            "y": {"field": "g", "type": "quantitative", "axis": null}
          }
        },
        {
          "data": {"name": "gammafit"},
          "mark": {"type": "line", "color": "#f00000", "strokeWidth": 2.4},
          "encoding": {
            "x": {"field": "q", "type": "quantitative", "axis": {"orient": "top", "offset": -12.7, "values": [1, 2, 3], "tickSize": -6, "labels": false, "title": null, "zindex": 1}},
            "y": {"field": "g", "type": "quantitative", "axis": {"orient": "left", "offset": -18, "values": [1, 2, 3], "tickSize": -6, "labels": false, "title": null, "zindex": 1}}
          }
        }
      ],
      "resolve": {"axis": {"x": "independent", "y": "independent"}}
    }
  ],
  "resolve": {"scale": {"x": "independent", "y": "independent"}, "axis": {"x": "independent", "y": "independent"}}
}
